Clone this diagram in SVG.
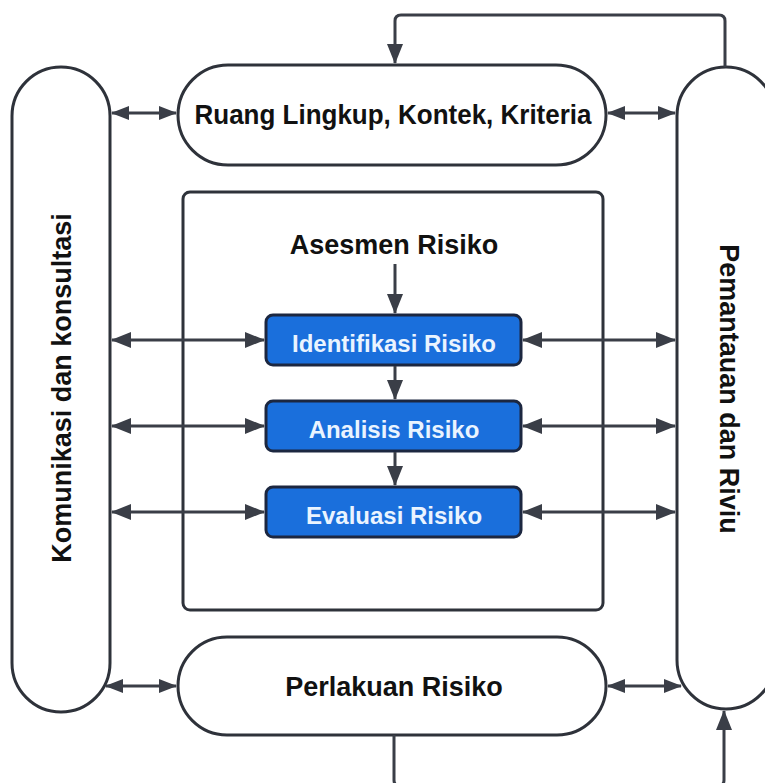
<svg xmlns="http://www.w3.org/2000/svg" width="765" height="783" viewBox="0 0 765 783">
<defs>
<style>
.shape{fill:#ffffff;stroke:#2e323a;stroke-width:3}
.blue{fill:#1a6fdc;stroke:#1c2740;stroke-width:3}
.lbl{font-family:"Liberation Sans",Arial,sans-serif;font-weight:bold;fill:#111111;text-anchor:middle}
.wlbl{font-family:"Liberation Sans",Arial,sans-serif;font-weight:bold;fill:#eaf4ff;text-anchor:middle;font-size:24px}
.con{fill:none;stroke:#3a3e47;stroke-width:3}
</style>
<marker id="ah" markerUnits="userSpaceOnUse" markerWidth="20" markerHeight="16" refX="19" refY="8" orient="auto-start-reverse">
<path d="M0,0 L20,8 L0,16 z" fill="#3a3e47"/>
</marker>
<marker id="sh" markerUnits="userSpaceOnUse" markerWidth="18" markerHeight="14" refX="17" refY="7" orient="auto-start-reverse">
<path d="M0,0 L18,7 L0,14 z" fill="#3a3e47"/>
</marker>
</defs>
<rect width="765" height="783" fill="#ffffff"/>

<g id="komunikasi">
<rect class="shape" x="12" y="67" width="98" height="645" rx="49" ry="49"/>
<text class="lbl" font-size="27" transform="translate(71,388) rotate(-90)">Komunikasi dan konsultasi</text>
</g>

<g id="pemantauan">
<rect class="shape" x="677" y="67" width="98" height="642" rx="49" ry="49"/>
<text class="lbl" font-size="27" transform="translate(720,389) rotate(90)">Pemantauan dan Riviu</text>
</g>

<g id="ruang-lingkup">
<rect class="shape" x="178" y="65" width="428" height="100" rx="50" ry="50"/>
<text class="lbl" font-size="28" x="393" y="124" textLength="397" lengthAdjust="spacingAndGlyphs">Ruang Lingkup, Kontek, Kriteria</text>
</g>

<g id="asesmen">
<rect class="shape" x="183" y="192" width="420" height="418" rx="7" ry="7"/>
<text class="lbl" font-size="27" x="394" y="254">Asesmen Risiko</text>
</g>

<g id="identifikasi">
<rect class="blue" x="266" y="315" width="255" height="50" rx="7" ry="7"/>
<text class="wlbl" x="394" y="352">Identifikasi Risiko</text>
</g>

<g id="analisis">
<rect class="blue" x="266" y="401" width="255" height="50" rx="7" ry="7"/>
<text class="wlbl" x="394" y="438">Analisis Risiko</text>
</g>

<g id="evaluasi">
<rect class="blue" x="266" y="487" width="255" height="50" rx="7" ry="7"/>
<text class="wlbl" x="394" y="524">Evaluasi Risiko</text>
</g>

<g id="perlakuan">
<rect class="shape" x="178" y="637" width="428" height="98" rx="49" ry="49"/>
<text class="lbl" font-size="27" x="394" y="696">Perlakuan Risiko</text>
</g>

<g id="connectors">
<path class="con" d="M725,67 V21 Q725,15 719,15 H401 Q395,15 395,21 V63" marker-end="url(#ah)"/>
<path class="con" d="M395,264 V313" marker-end="url(#ah)"/>
<path class="con" d="M395,366 V399" marker-end="url(#ah)"/>
<path class="con" d="M395,452 V485" marker-end="url(#ah)"/>
<path class="con" d="M112,113 H176" marker-start="url(#sh)" marker-end="url(#sh)"/>
<path class="con" d="M608,113 H675" marker-start="url(#sh)" marker-end="url(#sh)"/>
<path class="con" d="M106,686 H176" marker-start="url(#sh)" marker-end="url(#sh)"/>
<path class="con" d="M608,686 H681" marker-start="url(#sh)" marker-end="url(#sh)"/>
<path class="con" d="M112,340 H264" marker-start="url(#ah)" marker-end="url(#ah)"/>
<path class="con" d="M112,426 H264" marker-start="url(#ah)" marker-end="url(#ah)"/>
<path class="con" d="M112,512 H264" marker-start="url(#ah)" marker-end="url(#ah)"/>
<path class="con" d="M523,340 H675" marker-start="url(#ah)" marker-end="url(#ah)"/>
<path class="con" d="M523,426 H675" marker-start="url(#ah)" marker-end="url(#ah)"/>
<path class="con" d="M523,512 H675" marker-start="url(#ah)" marker-end="url(#ah)"/>
<path class="con" d="M394,735 V780 Q394,786 400,786 H718 Q724,786 724,780 V711" marker-end="url(#ah)"/>
</g>
</svg>
